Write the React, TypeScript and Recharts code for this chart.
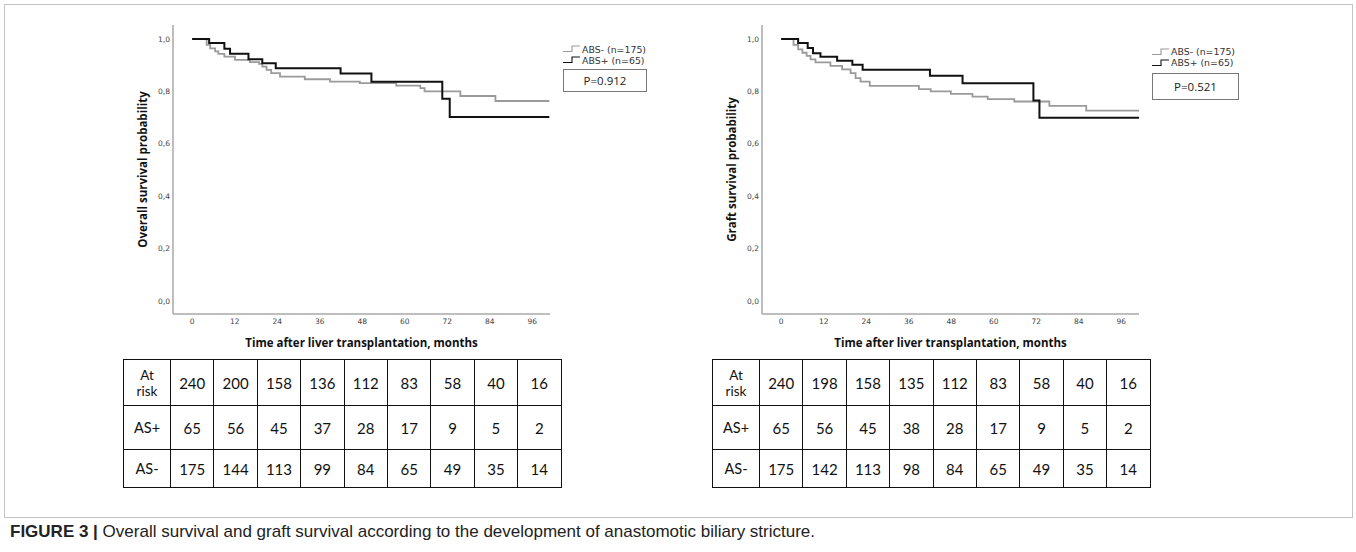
import React from "react"
import { LineChart, Line, XAxis, YAxis, Legend } from "recharts"

const monthTicks = [0, 12, 24, 36, 48, 60, 72, 84, 96]
const probTicks = [0, 0.2, 0.4, 0.6, 0.8, 1]
const legendOrder = ["ABS- (n=175)", "ABS+ (n=65)"]

// overall survival, ABS- (grey) and ABS+ (black)
const osNegMonths = [0, 4.1, 5.1, 6.5, 7.4, 9.1, 12.1, 16.3, 18.9, 19.8, 21, 22.3, 24.8, 31.8, 38.9, 47.3, 57.6, 64.4, 65.6, 75.7, 85.6, 100.8]
const osNegProb = [1, 0.977, 0.964, 0.952, 0.943, 0.932, 0.92, 0.911, 0.905, 0.894, 0.882, 0.869, 0.856, 0.846, 0.837, 0.831, 0.822, 0.812, 0.8, 0.782, 0.763, 0.763]
const osPosMonths = [0, 4.8, 9.1, 10.7, 15.9, 19.8, 23.6, 41.9, 50.6, 70.6, 72.7, 100.8]
const osPosProb = [1, 0.984, 0.962, 0.943, 0.922, 0.907, 0.888, 0.868, 0.836, 0.772, 0.702, 0.702]

// graft survival
const gsNegMonths = [0, 3.5, 4.8, 6, 7.2, 8.3, 9.7, 13.9, 17.2, 19.6, 21, 22.4, 25, 38.9, 42.2, 47.9, 54, 58.3, 65.8, 75.7, 86.1, 101]
const gsNegProb = [1, 0.977, 0.96, 0.947, 0.935, 0.922, 0.91, 0.897, 0.884, 0.869, 0.85, 0.837, 0.821, 0.808, 0.8, 0.79, 0.78, 0.77, 0.761, 0.744, 0.726, 0.726]
const gsPosMonths = [0, 4.8, 7.5, 9, 11.1, 15.8, 20.1, 23, 42, 51.2, 71.2, 72.9, 101]
const gsPosProb = [1, 0.984, 0.965, 0.945, 0.932, 0.917, 0.901, 0.882, 0.859, 0.831, 0.765, 0.699, 0.699]

// numbers at risk
const riskLabels = ["At risk", "AS+", "AS-"]
const osAtRisk = [240, 200, 158, 136, 112, 83, 58, 40, 16]
const osAsPos = [65, 56, 45, 37, 28, 17, 9, 5, 2]
const osAsNeg = [175, 144, 113, 99, 84, 65, 49, 35, 14]
const gsAtRisk = [240, 198, 158, 135, 112, 83, 58, 40, 16]
const gsAsPos = [65, 56, 45, 38, 28, 17, 9, 5, 2]
const gsAsNeg = [175, 142, 113, 98, 84, 65, 49, 35, 14]

const toPoints = (months: number[], prob: number[]) => months.map((t, i) => ({ t, s: prob[i] }))
const fmtProb = (v: number) => v.toFixed(1).replace(".", ",")

const tickStyle = { fontFamily: "DejaVu Sans", fontSize: 7.5, fill: "#444" }
const titleStyle = { fontFamily: "Open Sans", fontSize: 11.5, fontWeight: 700, fill: "#111" }

function StepIcon({ color }: { color: string }) {
  return (
    <svg width={19} height={8} style={{ display: "block" }}>
      <path d="M0 6.5 H9 V1 H17" stroke={color} strokeWidth={1.1} fill="none" />
    </svg>
  )
}

function KmLegend({ payload, pValue, boxTop, boxW, boxH }: any) {
  const items = [...(payload || [])].sort(
    (a: any, b: any) => legendOrder.indexOf(a.value) - legendOrder.indexOf(b.value)
  )
  return (
    <div style={{ position: "relative", fontFamily: "DejaVu Sans", fontSize: 9.4, color: "#333" }}>
      {items.map((entry: any) => (
        <div key={entry.value} style={{ display: "flex", alignItems: "center", height: 11 }}>
          <StepIcon color={entry.color} />
          <span>{entry.value}</span>
        </div>
      ))}
      <div
        style={{
          position: "absolute",
          left: 0,
          top: boxTop,
          width: boxW,
          height: boxH,
          border: "1px solid #777",
          boxSizing: "border-box",
          display: "flex",
          alignItems: "center",
          justifyContent: "center",
          fontFamily: "Open Sans",
          fontSize: 11.5,
          color: "#222",
        }}
      >
        {pValue}
      </div>
    </div>
  )
}

function KmChart({ left, yTitle, neg, pos, pValue, legendTop, boxTop, boxW, boxH }: any) {
  return (
    <div style={{ position: "absolute", left, top: 0 }}>
      <LineChart width={580} height={372} margin={{ top: 25, right: 150, bottom: 0, left: 0 }}>
        <XAxis
          type="number"
          dataKey="t"
          domain={[-5.4, 101]}
          ticks={monthTicks}
          allowDataOverflow
          height={58}
          tickLine={false}
          tickSize={0}
          tickMargin={5}
          tick={tickStyle}
          axisLine={{ stroke: "#a8a8a8", strokeWidth: 1.5 }}
          label={{ value: "Time after liver transplantation, months", position: "center", dy: 0, style: titleStyle }}
        />
        <YAxis
          type="number"
          dataKey="s"
          domain={[-0.05, 1.053]}
          ticks={probTicks}
          allowDataOverflow
          width={53}
          tickLine={false}
          tickSize={0}
          tickMargin={3}
          tick={tickStyle}
          tickFormatter={fmtProb}
          axisLine={{ stroke: "#a8a8a8", strokeWidth: 1.5 }}
          label={{ value: yTitle, angle: -90, position: "center", dx: -4, style: titleStyle }}
        />
        <Legend
          layout="horizontal"
          verticalAlign="middle"
          align="center"
          wrapperStyle={{ left: 443, top: legendTop, width: 130 }}
          content={(props: any) => <KmLegend payload={props.payload} pValue={pValue} boxTop={boxTop} boxW={boxW} boxH={boxH} />}
        />
        <Line
          data={neg}
          dataKey="s"
          name="ABS- (n=175)"
          type="stepAfter"
          stroke="#9a9a9a"
          strokeWidth={1.8}
          dot={false}
          isAnimationActive={false}
        />
        <Line
          data={pos}
          dataKey="s"
          name="ABS+ (n=65)"
          type="stepAfter"
          stroke="#111"
          strokeWidth={2}
          dot={false}
          isAnimationActive={false}
        />
      </LineChart>
    </div>
  )
}

function RiskTable({ left, rows }: { left: number; rows: number[][] }) {
  const rowHeights = [46, 44, 38]
  const cell: React.CSSProperties = {
    border: "1.6px solid #111",
    textAlign: "center",
    verticalAlign: "middle",
    padding: 0,
  }
  return (
    <table
      style={{
        position: "absolute",
        left,
        top: 359,
        borderCollapse: "collapse",
        tableLayout: "fixed",
        fontFamily: "Lato",
        fontSize: 15,
        color: "#111",
      }}
    >
      <colgroup>
        <col style={{ width: 47 }} />
        {rows[0].map((_, i) => (
          <col key={i} style={{ width: 43.4 }} />
        ))}
      </colgroup>
      <tbody>
        {rows.map((r, ri) => (
          <tr key={ri} style={{ height: rowHeights[ri] }}>
            <td style={{ ...cell, fontSize: ri === 0 ? 13.5 : 14.5, lineHeight: ri === 0 ? "16px" : undefined }}>
              {ri === 0 ? (
                <>
                  At
                  <br />
                  risk
                </>
              ) : (
                riskLabels[ri]
              )}
            </td>
            {r.map((v, ci) => (
              <td key={ci} style={cell}>
                {v}
              </td>
            ))}
          </tr>
        ))}
      </tbody>
    </table>
  )
}

export default function App() {
  return (
    <div style={{ position: "absolute", left: 0, top: 0, width: 1356, height: 552, background: "#fff", overflow: "hidden" }}>
      <div style={{ position: "absolute", left: 4, top: 4, width: 1347, height: 512, border: "1px solid #c4c4c4" }} />
      <KmChart
        left={120}
        yTitle="Overall survival probability"
        neg={toPoints(osNegMonths, osNegProb)}
        pos={toPoints(osPosMonths, osPosProb)}
        pValue="P=0.912"
        legendTop={43.5}
        boxTop={25.8}
        boxW={84}
        boxH={23}
      />
      <KmChart
        left={709}
        yTitle="Graft survival probability"
        neg={toPoints(gsNegMonths, gsNegProb)}
        pos={toPoints(gsPosMonths, gsPosProb)}
        pValue="P=0.521"
        legendTop={46}
        boxTop={26.7}
        boxW={87}
        boxH={27}
      />
      <RiskTable left={123} rows={[osAtRisk, osAsPos, osAsNeg]} />
      <RiskTable left={712} rows={[gsAtRisk, gsAsPos, gsAsNeg]} />
      <div
        style={{
          position: "absolute",
          left: 10,
          top: 522,
          fontFamily: "Liberation Sans",
          fontSize: 17,
          color: "#222",
          whiteSpace: "nowrap",
        }}
      >
        <b>FIGURE 3 |</b> Overall survival and graft survival according to the development of anastomotic biliary stricture.
      </div>
    </div>
  )
}
